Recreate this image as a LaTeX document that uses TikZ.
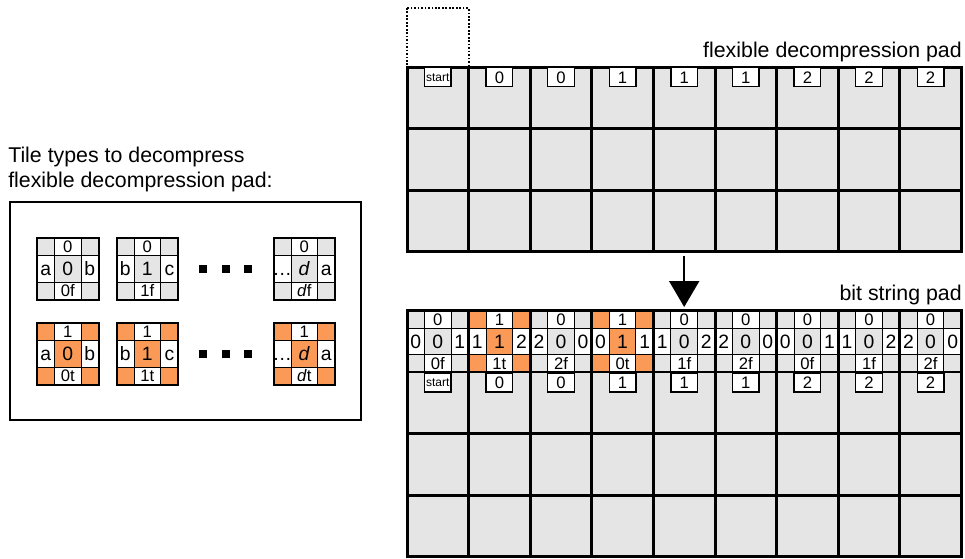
\documentclass[tikz,border=0pt]{standalone}
\usepackage{fontspec}
\setmainfont{Liberation Sans}
\usetikzlibrary{arrows.meta}

\definecolor{padgray}{RGB}{229,229,229}
\definecolor{tileorange}{RGB}{251,153,86}

\begin{document}
\begin{tikzpicture}[x=0.75pt,y=-0.75pt,
      padcell/.style={draw, line width=2.25pt, fill=padgray},
      padline/.style={line width=2.25pt},
      padlabel/.style={draw, fill=white, line width=1.1pt, anchor=north, inner sep=0pt,
        minimum width=20pt, minimum height=14.25pt, text height=8.9pt, text depth=0pt,
        font={\fontsize{12.5}{14}\selectfont}},
      startlabel/.style={padlabel, text height=6.5pt, font={\fontsize{9}{10}\selectfont}},
      tileedge/.style={text height=9pt, text depth=0pt, inner sep=0pt, font={\fontsize{12.5}{14}\selectfont}},
      tilemid/.style={text height=10.4pt, text depth=0pt, inner sep=0pt, font={\fontsize{14.5}{16}\selectfont}},
      headline/.style={anchor=base east, inner sep=0pt, font={\fontsize{16}{19}\selectfont}},
      tileframe/.style={line width=1.5pt},
      tilegrid/.style={line width=0.75pt}]

    \useasboundingbox (0,0) rectangle (965,558);

    %draw legend text and frame
    \node[headline, anchor=base west] (legend1) at (8,162) {Tile types to decompress};
    \node[headline, anchor=base west] (legend2) at (8,187) {flexible decompression pad:};
    \draw[tileframe] (10,202) rectangle (361,420);

    %draw dots between tile types
    \foreach \y in {268.8,353.8}{
      \foreach \x in {203,225.5,248}{
        \fill ({\x-4},{\y-4}) rectangle +(8,8);
      }
    }

    %draw flexible decompression pad
    \draw[dash pattern=on 1.3pt off 1.3pt, line width=1.5pt] (407,8) rectangle (468.6,67);
    \foreach \i in {0,...,8}{
      \foreach \j in {0,1,2}{
        \draw[padcell] ({407+\i*61.6},{67+\j*61.6}) rectangle +(61.6,61.6);
      }
    }
    \node[headline] (flexpad) at (962,57) {flexible decompression pad};
    \node[startlabel] (ftop0) at (437.8,67) {start};
    \foreach \i/\t in {1/0,2/0,3/1,4/1,5/1,6/2,7/2,8/2}{
      \node[padlabel] (ftop\i) at ({437.8+\i*61.6},67) {\t};
    }

    %draw arrow
    \coordinate (arrowtop) at (684.2,256);
    \coordinate (arrowtip) at (684.2,307);
    \draw[-{Triangle[length=19.5pt,width=22.5pt]}, line width=1.5pt] (arrowtop) -- (arrowtip);

    %draw bit string pad
    \node[headline] (bitpad) at (962,300) {bit string pad};
    \fill[padgray] (407,372.1) rectangle (961.4,556.9);

    %draw tiles (legend and bit string)
    \foreach \x/\y/\tp/\lf/\md/\rt/\bt/\fc/\n in {
        37/238/0/a/0/b/0f/padgray/ga,
        116.5/238/0/b/1/c/1f/padgray/gb,
        273.5/238/0/{\ldots}/{\textit{d}}/a/{\textit{d}f}/padgray/gd,
        37/323/1/a/0/b/0t/tileorange/oa,
        116.5/323/1/b/1/c/1t/tileorange/ob,
        273.5/323/1/{\ldots}/{\textit{d}}/a/{\textit{d}t}/tileorange/od,
        407/310.5/0/0/0/1/0f/padgray/b0,
        468.6/310.5/1/1/1/2/1t/tileorange/b1,
        530.2/310.5/0/2/0/0/2f/padgray/b2,
        591.8/310.5/1/0/1/1/0t/tileorange/b3,
        653.4/310.5/0/1/0/2/1f/padgray/b4,
        715/310.5/0/2/0/0/2f/padgray/b5,
        776.6/310.5/0/0/0/1/0f/padgray/b6,
        838.2/310.5/0/1/0/2/1f/padgray/b7,
        899.8/310.5/0/2/0/0/2f/padgray/b8}{
      \begin{scope}[shift={(\x,\y)}]
        \fill[white] (0,0) rectangle (61.6,61.6);
        \fill[\fc] (0,0) rectangle (17.5,17.5) (44.1,0) rectangle (61.6,17.5)
                   (0,44.1) rectangle (17.5,61.6) (44.1,44.1) rectangle (61.6,61.6)
                   (17.5,17.5) rectangle (44.1,44.1);
        \draw[tilegrid] (17.5,0) -- (17.5,61.6) (44.1,0) -- (44.1,61.6)
                        (0,17.5) -- (61.6,17.5) (0,44.1) -- (61.6,44.1);
        \draw[tileframe] (0,0) rectangle (61.6,61.6);
        \node[tileedge] (\n-top) at (30.8,8.75) {\tp};
        \node[tilemid] (\n-left) at (8.75,30.8) {\lf};
        \node[tilemid] (\n-mid) at (30.8,30.8) {\md};
        \node[tilemid] (\n-right) at (52.85,30.8) {\rt};
        \node[tileedge] (\n-bottom) at (30.8,52.85) {\bt};
      \end{scope}
    }

    %draw bit string pad grid
    \draw[padline] (407,310.5) rectangle (961.4,556.9);
    \foreach \i in {1,...,8}{
      \draw[padline] ({407+\i*61.6},310.5) -- ({407+\i*61.6},556.9);
    }
    \foreach \y in {433.7,495.3}{
      \draw[padline] (407,\y) -- (961.4,\y);
    }
    \node[startlabel] (btop0) at (437.8,372.1) {start};
    \foreach \i/\t in {1/0,2/0,3/1,4/1,5/1,6/2,7/2,8/2}{
      \node[padlabel] (btop\i) at ({437.8+\i*61.6},372.1) {\t};
    }

\end{tikzpicture}
\end{document}
